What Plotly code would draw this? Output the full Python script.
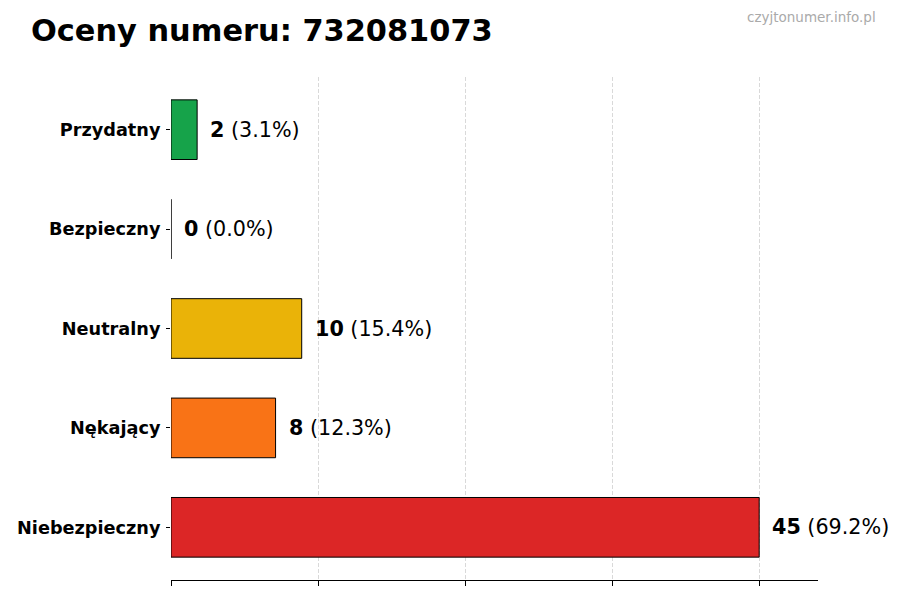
import plotly.graph_objects as go

categories = ["Niebezpieczny", "Nękający", "Neutralny", "Bezpieczny", "Przydatny"]
counts = [45, 8, 10, 0, 2]
percents = [69.2, 12.3, 15.4, 0.0, 3.1]
colors = ["#dc2626", "#f97316", "#eab308", "#9ca3af", "#16a34a"]
grid_ticks = [0, 11.25, 22.5, 33.75, 45]

labels = [f"<b>{c}</b> ({p:.1f}%)" for c, p in zip(counts, percents)]

# the page puts the figure 8px in from the top-left corner
OFF = 8
W, H = 900 - OFF, 600 - OFF
L, R, T, B = 171 - OFF, 82, 77 - OFF, 20
PW, PH = W - L - R, H - T - B


def px_to_paper(x, y):
    return (x - OFF - L) / PW, 1 - (y - OFF - T) / PH


fig = go.Figure(
    go.Bar(
        x=counts,
        y=categories,
        orientation="h",
        width=0.6,
        marker=dict(color=colors, line=dict(color="black", width=1)),
        hoverinfo="skip",
    )
)

for cat, val, lab in zip(categories, counts, labels):
    fig.add_annotation(
        x=val, y=cat, xref="x", yref="y",
        text=lab, showarrow=False,
        xanchor="left", yanchor="middle", xshift=11,
        font=dict(family="DejaVu Sans", size=20.7, color="black"),
    )

tx, ty = px_to_paper(29, 30)
fig.add_annotation(
    x=tx, y=ty, xref="paper", yref="paper",
    text="<b>Oceny numeru: 732081073</b>", showarrow=False,
    xanchor="left", yanchor="middle",
    font=dict(family="DejaVu Sans", size=30.4, color="black"),
)
wx, wy = px_to_paper(878, 17)
fig.add_annotation(
    x=wx, y=wy, xref="paper", yref="paper",
    text="czyjtonumer.info.pl", showarrow=False,
    xanchor="right", yanchor="middle",
    font=dict(family="DejaVu Sans", size=13.5, color="#aaaaaa"),
)

fig.update_layout(
    width=W,
    height=H,
    margin=dict(l=L, r=R, t=T, b=B),
    paper_bgcolor="white",
    plot_bgcolor="white",
    showlegend=False,
    font=dict(family="DejaVu Sans", color="black"),
    xaxis=dict(
        range=[0, 49.5],
        tickvals=grid_ticks,
        showticklabels=False,
        ticks="outside",
        ticklen=5,
        tickcolor="black",
        showline=True,
        linecolor="black",
        linewidth=1.2,
        showgrid=True,
        gridcolor="#d9d9d9",
        griddash="4px,2px",
        gridwidth=0.8,
        zeroline=False,
        automargin=False,
        layer="above traces",
    ),
    yaxis=dict(
        type="category",
        categoryorder="array",
        categoryarray=categories,
        range=[-0.53, 4.53],
        ticks="outside",
        ticklen=4,
        tickcolor="black",
        ticklabelstandoff=2,
        showline=False,
        showgrid=False,
        zeroline=False,
        automargin=False,
        tickfont=dict(family="DejaVu Sans", size=17.7, color="black", weight="bold"),
    ),
)

fig.write_html("out.html")
